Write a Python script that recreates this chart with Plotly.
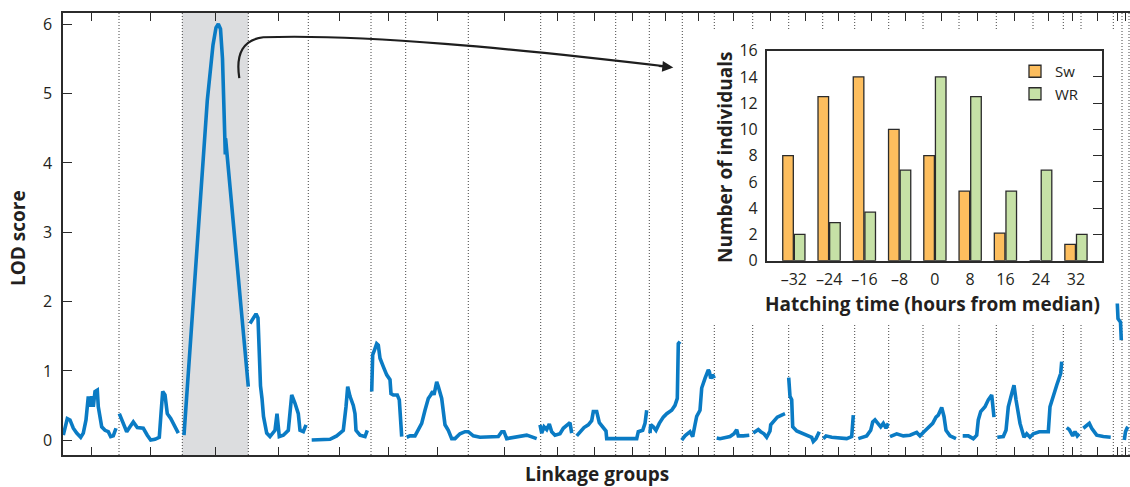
import plotly.graph_objects as go

# ---------------- data ----------------
# linkage-group boundaries along the genome axis (map units)
lg_bounds = [0, 56, 119.3, 185.3, 245.3, 308, 342.7, 405.3, 477.7, 511, 552.7, 586.3,
             619.3, 651.3, 689.7, 725.7, 759.7, 791.7, 825.7, 860, 896, 933.3, 970,
             1000.3, 1018, 1050.3, 1059, 1066]
highlight_group = 2
lod_ticks = [0, 1, 2, 3, 4, 5, 6]

# LOD profile, one (positions, LOD) pair per continuous stretch
lod_segments = [
    ([0.3, 4.3, 7, 10.3, 13.7, 17.7, 20.3, 23, 25.3, 27, 28.7, 30.3, 32, 34.3, 35.3, 38.7, 42, 45.3, 47.7, 50.3, 53],
     [0.07, 0.31, 0.29, 0.17, 0.10, 0.04, 0.10, 0.29, 0.63, 0.48, 0.63, 0.48, 0.70, 0.72, 0.48, 0.19, 0.14, 0.12, 0.05, 0.06, 0.17]),
    ([56.3, 60.3, 63.7, 67, 70.3, 74.3, 77.7, 80.3, 84.3, 87.7, 92, 96.3, 98, 99.7, 102, 104.3, 107.7, 112, 115.3],
     [0.38, 0.24, 0.12, 0.19, 0.26, 0.18, 0.18, 0.17, 0.07, 0.0, 0.01, 0.04, 0.38, 0.70, 0.65, 0.38, 0.31, 0.19, 0.10]),
    ([121, 144.3, 150, 153, 155.3, 157.5, 159.5, 161.6, 162.3, 162.6, 185.3],
     [0.07, 4.9, 5.7, 5.95, 6.0, 5.93, 5.5, 4.45, 4.12, 4.35, 0.77]),
    ([187, 190, 193, 195, 196.5, 197.5, 199, 200.5, 203.7, 207, 212, 214, 216.3, 220.3, 225.3, 228.7, 232, 235.3, 237, 240.3, 243],
     [1.68, 1.75, 1.82, 1.76, 1.2, 0.78, 0.60, 0.34, 0.10, 0.05, 0.14, 0.38, 0.05, 0.07, 0.14, 0.65, 0.53, 0.38, 0.14, 0.12, 0.22]),
    ([248.7, 267, 273.7, 280.3, 283, 284.7, 287, 290.3, 292, 293, 297, 302, 304.3],
     [0.0, 0.01, 0.06, 0.14, 0.48, 0.77, 0.63, 0.50, 0.38, 0.14, 0.07, 0.05, 0.14]),
    ([308.7, 309.7, 312, 313.7, 315.3, 317, 320.3, 323.7, 327, 328, 330.3, 334.3, 336.3, 338.7],
     [0.70, 1.23, 1.32, 1.39, 1.37, 1.18, 1.06, 0.94, 0.87, 0.67, 0.65, 0.65, 0.58, 0.05]),
    ([343.7, 347, 352, 355.3, 358.7, 362, 365.3, 367.7, 369.7, 371, 373.7, 375.3, 378.7, 382, 385.3, 388.7, 392, 397, 402,
      405.3, 410.3, 417, 435.3, 438.7, 441, 443.7, 453.7, 463.7, 473.7],
     [0.04, 0.06, 0.06, 0.14, 0.24, 0.43, 0.60, 0.65, 0.70, 0.65, 0.84, 0.77, 0.60, 0.22, 0.14, 0.02, 0.02, 0.09, 0.12,
      0.12, 0.06, 0.04, 0.05, 0.12, 0.12, 0.02, 0.04, 0.07, 0.02]),
    ([477, 478.7, 481, 483.7, 486.3, 488.7, 492, 497, 500.3, 503.7, 507, 508.7],
     [0.22, 0.10, 0.19, 0.15, 0.23, 0.12, 0.07, 0.09, 0.17, 0.22, 0.25, 0.10]),
    ([513.7, 517, 521, 525.3, 528.7, 530.3, 533.7, 536.3, 540.3, 543, 543.7, 573.7, 575.3, 579.7, 582, 583.7],
     [0.06, 0.12, 0.18, 0.22, 0.28, 0.41, 0.41, 0.25, 0.17, 0.13, 0.02, 0.02, 0.12, 0.14, 0.24, 0.43]),
    ([587, 587.7, 590.3, 593, 596.3, 600.3, 603.7, 608.7, 612, 614.3, 615.3, 617],
     [0.10, 0.22, 0.19, 0.14, 0.24, 0.33, 0.38, 0.43, 0.50, 0.60, 1.39, 1.42]),
    ([618.7, 622, 627, 629.7, 632, 633.7, 637, 638.7, 642, 645.3, 646.3, 647.7, 649.7, 651.3],
     [0.0, 0.06, 0.12, 0.05, 0.22, 0.34, 0.43, 0.75, 0.89, 1.01, 0.99, 0.89, 0.94, 0.89]),
    ([653.7, 657, 667, 671, 673.7, 675.3, 680.3, 686.3],
     [0.03, 0.02, 0.05, 0.09, 0.15, 0.06, 0.06, 0.07]),
    ([690.3, 693, 695.3, 697.7, 701, 703.7, 707, 707.7, 710.3, 714.3, 718.7, 722],
     [0.10, 0.13, 0.15, 0.12, 0.09, 0.04, 0.13, 0.22, 0.26, 0.33, 0.36, 0.38]),
    ([725.7, 727, 728.7, 729.7, 733.7, 738.7, 745.3, 748.7, 750.3, 753, 756.3],
     [0.90, 0.63, 0.58, 0.19, 0.13, 0.10, 0.06, 0.04, -0.02, 0.02, 0.12]),
    ([760.3, 763, 768.7, 783.7, 788.7, 790.3],
     [0.02, 0.06, 0.04, 0.02, 0.05, 0.36]),
    ([795.3, 803.7, 807.7, 809.7, 812, 815.3, 817.7, 820.3, 823, 825.3],
     [0.02, 0.06, 0.14, 0.26, 0.29, 0.22, 0.19, 0.24, 0.17, 0.24]),
    ([827, 833.7, 840.3, 847, 853.7, 857, 861, 866.3, 869.7, 873, 875.3, 878.7, 881, 883, 887, 893],
     [0.05, 0.09, 0.06, 0.07, 0.11, 0.06, 0.12, 0.19, 0.24, 0.33, 0.36, 0.47, 0.34, 0.14, 0.06, 0.02]),
    ([899.7, 905.3, 910.3, 913.7, 915.3, 917.7, 922, 925.3, 928.7, 930.3, 931],
     [0.06, 0.06, 0.02, 0.07, 0.29, 0.41, 0.48, 0.58, 0.65, 0.48, 0.33]),
    ([934.3, 940.3, 943, 945.3, 948.7, 951, 953, 957, 961, 963.7, 967, 970.3, 976.3, 985.3, 987, 990.3, 993.7, 997.7, 998.7],
     [0.04, 0.05, 0.14, 0.48, 0.67, 0.79, 0.58, 0.24, 0.04, 0.09, 0.04, 0.09, 0.12, 0.12, 0.48, 0.65, 0.79, 0.96, 1.13]),
    ([1003.7, 1006.3, 1009.7, 1012, 1014.3, 1016.3],
     [0.18, 0.15, 0.06, 0.12, 0.06, 0.09]),
    ([1020.3, 1023.7, 1026.3, 1028.7, 1033.7, 1040.3, 1047.7],
     [0.17, 0.22, 0.24, 0.17, 0.07, 0.05, 0.04]),
    ([1054.3, 1055, 1057.5, 1058.3],
     [1.97, 1.75, 1.70, 1.44]),
    ([1061.3, 1062.5, 1064, 1065],
     [0.0, 0.12, 0.17, 0.19]),
]

# inset: hatching time distribution
hatch_labels = ["\u201332", "\u201324", "\u201316", "\u20138", "0", "8", "16", "24", "32"]
sw_counts = [8, 12.5, 14, 10, 8, 5.3, 2.1, 0, 1.25]
wr_counts = [2, 2.9, 3.7, 6.9, 14, 12.5, 5.3, 6.9, 2]

# ---------------- figure ----------------
FONT = "Open Sans"
TXT = "#231f20"
W, H = 1130, 487
ML, MR, MT, MB = 63, 0, 13, 32
PW, PH = W - ML - MR, H - MT - MB


def px2paper_x(px):
    return (px - ML) / PW


def px2paper_y(py):
    return (H - MB - py) / PH


lod_x, lod_y = [], []
for xs, ys in lod_segments:
    lod_x += list(xs) + [None]
    lod_y += list(ys) + [None]

mids = [(a + b) / 2 for a, b in zip(lg_bounds[:-1], lg_bounds[1:])]

fig = go.Figure()
fig.add_trace(go.Scatter(x=lod_x, y=lod_y, mode="lines", connectgaps=False,
                         line=dict(color="#0a7bc4", width=3.6), showlegend=False,
                         hoverinfo="skip"))

idx = list(range(len(hatch_labels)))
fig.add_trace(go.Bar(x=idx, y=sw_counts, name="Sw", xaxis="x2", yaxis="y2",
                     width=0.30, offset=-0.315,
                     marker=dict(color="#fdbe5e", line=dict(color="#2b2b2b", width=1.3))))
fig.add_trace(go.Bar(x=idx, y=wr_counts, name="WR", xaxis="x2", yaxis="y2",
                     width=0.30, offset=0.015,
                     marker=dict(color="#c6e1a6", line=dict(color="#2b2b2b", width=1.3))))
fig.add_trace(go.Scatter(x=[None], y=[None], xaxis="x2", yaxis="y3", showlegend=False,
                         hoverinfo="skip"))

shapes = []
shapes.append(dict(type="rect", xref="x", yref="paper",
                   x0=lg_bounds[highlight_group], x1=lg_bounds[highlight_group + 1],
                   y0=0, y1=1, fillcolor="#dcdddf", line=dict(width=0), layer="below"))
for b in lg_bounds[1:]:
    shapes.append(dict(type="line", xref="x", yref="paper", x0=b, x1=b, y0=0, y1=1,
                       line=dict(color="#444", width=1, dash="1px,2px"), layer="below"))
shapes.append(dict(type="rect", xref="paper", yref="paper",
                   x0=px2paper_x(690), x1=px2paper_x(1115),
                   y0=px2paper_y(325), y1=px2paper_y(30),
                   fillcolor="white", line=dict(width=0), layer="below"))
shapes.append(dict(type="path", xref="x", yref="y",
                   path="M 176.3,5.22 Q 170.5,5.76 200.3,5.81 C 300,5.86 450,5.65 606,5.385",
                   line=dict(color="#1e1e1e", width=2.2)))

TITLE_SIZE = 19
annotations = [
    dict(x=610.3, y=5.375, xref="x", yref="y", ax=-16, ay=-1.5, text="",
         showarrow=True, arrowhead=2, arrowsize=1.1, arrowwidth=2.0, arrowcolor="#1e1e1e"),
    dict(text="<b>LOD score</b>", xref="paper", yref="paper", x=px2paper_x(18), y=px2paper_y(238),
         xanchor="center", yanchor="middle",
         textangle=-90, showarrow=False, font=dict(size=TITLE_SIZE, family=FONT, color=TXT)),
    dict(text="<b>Linkage groups</b>", xref="paper", yref="paper", x=px2paper_x(597), y=px2paper_y(474),
         xanchor="center", yanchor="middle",
         showarrow=False, font=dict(size=TITLE_SIZE, family=FONT, color=TXT)),
    dict(text="<b>Number of individuals</b>", xref="paper", yref="paper", x=px2paper_x(725),
         y=px2paper_y(158), xanchor="center", yanchor="middle",
         textangle=-90, showarrow=False, font=dict(size=TITLE_SIZE, family=FONT, color=TXT)),
    dict(text="<b>Hatching time (hours from median)</b>", xref="paper", yref="paper",
         x=px2paper_x(932), y=px2paper_y(304), xanchor="center", yanchor="middle", showarrow=False,
         font=dict(size=TITLE_SIZE, family=FONT, color=TXT)),
]
# LOD axis tick labels
for t in lod_ticks:
    annotations.append(dict(text=str(t), xref="paper", yref="y", x=px2paper_x(54), y=t,
                            xanchor="right", yanchor="middle", showarrow=False,
                            font=dict(size=16, family=FONT, color=TXT)))

axis_line = "#2b2b2b"
fig.update_layout(
    width=W, height=H, autosize=False,
    margin=dict(l=ML, r=MR, t=MT, b=MB, pad=0),
    paper_bgcolor="white", plot_bgcolor="white",
    font=dict(family=FONT, color=TXT, size=16),
    shapes=shapes, annotations=annotations,
    barmode="group",
    xaxis=dict(domain=[0, 1], range=[0, PW], showline=True, linecolor=axis_line, linewidth=1.5,
               mirror="ticks", ticks="inside", ticklen=8, tickwidth=1.2, tickcolor=axis_line,
               tickvals=mids, showticklabels=False, showgrid=False, zeroline=False),
    yaxis=dict(domain=[0, 1], range=[-0.216, 6.16], showline=True, linecolor=axis_line, linewidth=1.5,
               ticks="inside", ticklen=9, tickwidth=1.2, tickcolor=axis_line,
               tickvals=lod_ticks, showticklabels=False,
               showgrid=False, zeroline=False),
    xaxis2=dict(domain=[px2paper_x(766.7), px2paper_x(1101.7)], anchor="y2",
                range=[-0.77, 8.73], tickvals=idx, ticktext=hatch_labels, ticks="",
                showline=True, linecolor=axis_line, linewidth=1.5, mirror=True,
                ticklabelstandoff=3,
                tickfont=dict(size=16, family=FONT, color=TXT), showgrid=False, zeroline=False),
    yaxis2=dict(domain=[px2paper_y(260.7), px2paper_y(50.7)], anchor="x2",
                range=[0, 16], dtick=2, ticks="", showline=True, linecolor=axis_line,
                linewidth=1.5, mirror=True, ticklabelstandoff=4,
                tickfont=dict(size=16, family=FONT, color=TXT), showgrid=False, zeroline=False),
    yaxis3=dict(overlaying="y2", anchor="x2", side="right", range=[0, 16],
                tickvals=[2, 4, 6, 8, 10, 12, 14], ticks="inside", ticklen=9, tickwidth=1.2,
                tickcolor=axis_line, showticklabels=False, showline=False, showgrid=False,
                zeroline=False),
    legend=dict(x=px2paper_x(1015), y=px2paper_y(55), xanchor="left", yanchor="top",
                bgcolor="rgba(0,0,0,0)", font=dict(size=15, family=FONT, color=TXT),
                itemwidth=30, tracegroupgap=0),
)

fig.write_html("out.html", config={"displayModeBar": False},
               post_script="document.body.style.margin='0';document.body.style.overflow='hidden';")
